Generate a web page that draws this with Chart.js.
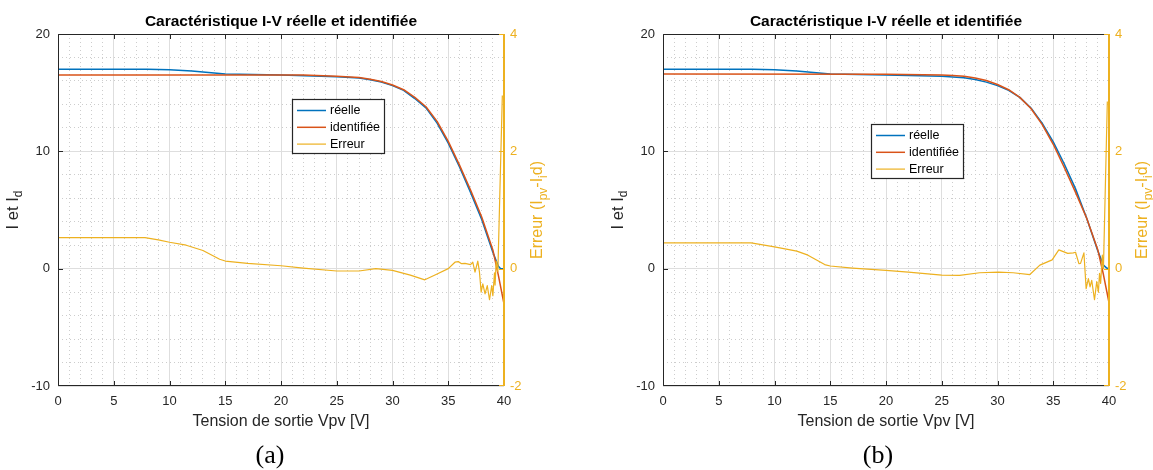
<!DOCTYPE html>
<html>
<head>
<meta charset="utf-8">
<script src="https://cdn.jsdelivr.net/npm/chart.js@4.4.1/dist/chart.umd.min.js"></script>
<style>
  body { margin: 0; background: #fff; width: 1153px; height: 470px; overflow: hidden; position: relative; }
  canvas { position: absolute; top: 0; }
  #courbeA { left: 0; }
  #courbeB { left: 576px; }
  .legende-fig { position: absolute; top: 440px; width: 80px; line-height: 30px; text-align: center;
    font: 26px 'Liberation Serif', 'Times New Roman', serif; color: #000; }
</style>
</head>
<body>
<canvas id="courbeA" width="576" height="470"></canvas>
<canvas id="courbeB" width="577" height="470"></canvas>
<div class="legende-fig" style="left:230px">(a)</div>
<div class="legende-fig" style="left:838px">(b)</div>
<script>
// courbes I-V réelle / identifiée et erreur - figures (a) et (b)
const titre = 'Caractéristique I-V réelle et identifiée';
const libelles = ['réelle', 'identifiée', 'Erreur'];
const xEtiquettes = [0, 5, 10, 15, 20, 25, 30, 35, 40];
const yEtiquettes = [-10, 0, 10, 20];
const y1Etiquettes = [-2, 0, 2, 4];

// (a)
const vReelA = [0, 8, 10, 12, 14, 15, 20, 25, 27, 28, 29, 30, 31, 32, 33, 34, 35, 36, 37, 38, 39, 39.5, 39.7, 40];
const iReelA = [17.0, 17.0, 16.95, 16.85, 16.68, 16.6, 16.5, 16.35, 16.25, 16.1, 15.9, 15.6, 15.2, 14.5, 13.7, 12.4, 10.7, 8.7, 6.5, 4.2, 1.4, 0.2, 0.0, 0.0];
const vIdA = [0, 22, 25, 27, 28, 29, 30, 31, 32, 33, 34, 35, 36, 37, 38, 39, 39.5, 40];
const iIdA = [16.5, 16.5, 16.4, 16.3, 16.15, 15.95, 15.65, 15.25, 14.6, 13.8, 12.55, 10.85, 8.85, 6.7, 4.4, 1.6, -0.6, -3.0];
const vErrA = [0, 7.8, 9, 10, 11.5, 13, 14.5, 15, 17, 20, 22, 25, 27, 28.5, 30, 31.6, 32.9, 34.0, 35.0, 35.6, 35.9, 36.2, 36.5, 37.0, 37.2, 37.4, 37.65, 37.8, 37.95, 38.1, 38.3, 38.5, 38.7, 38.9, 39.0, 39.15, 39.2, 39.3, 39.45, 39.85];
const errA = [0.53, 0.53, 0.49, 0.45, 0.40, 0.31, 0.16, 0.13, 0.09, 0.05, 0.01, -0.04, -0.04, 0.0, -0.03, -0.11, -0.19, -0.09, 0.0, 0.11, 0.12, 0.085, 0.09, 0.07, 0.11, -0.06, 0.13, -0.06, -0.4, -0.26, -0.43, -0.29, -0.53, -0.29, -0.46, -0.07, -0.28, 0.13, -0.05, 2.95];

// (b)
const vReelB = [0, 8, 10, 12, 14, 15, 20, 25, 27, 28, 29, 30, 31, 32, 33, 34, 35, 36, 37, 38, 39, 39.5, 39.8, 40];
const iReelB = [17.0, 17.0, 16.95, 16.85, 16.68, 16.6, 16.5, 16.4, 16.28, 16.12, 15.9, 15.6, 15.2, 14.6, 13.7, 12.4, 10.8, 8.9, 6.8, 4.3, 1.5, 0.3, 0.05, 0.0];
const vIdB = [0, 20, 25, 26, 27, 28, 29, 30, 31, 32, 33, 34, 35, 36, 37, 38, 39, 39.5, 40];
const iIdB = [16.6, 16.58, 16.5, 16.47, 16.4, 16.25, 16.03, 15.7, 15.25, 14.6, 13.65, 12.3, 10.6, 8.6, 6.5, 4.3, 1.6, -0.5, -2.9];
const vErrB = [0, 7.9, 10, 12, 13, 14.5, 15, 17, 20, 22, 25, 26.6, 28.4, 30.1, 31.4, 32.9, 33.8, 34.9, 35.5, 35.9, 36.3, 36.8, 37.0, 37.3, 37.45, 37.75, 37.95, 38.15, 38.3, 38.45, 38.7, 38.9, 39.05, 39.15, 39.25, 39.4, 39.5, 39.85];
const errB = [0.44, 0.44, 0.37, 0.30, 0.23, 0.07, 0.045, 0.01, -0.03, -0.06, -0.11, -0.115, -0.07, -0.06, -0.07, -0.10, 0.06, 0.15, 0.32, 0.29, 0.26, 0.27, 0.28, 0.085, 0.09, 0.27, -0.34, -0.17, -0.31, -0.2, -0.53, -0.22, -0.4, -0.08, -0.25, 0.23, 0.0, 2.85];

const POLICE = "'Liberation Sans', Arial, Helvetica, sans-serif";
const AXE = '#262626';
const BLEU = '#0072BD';
const ROUGE = '#D95319';
const JAUNE = '#EDB120';
const GRILLE = '#dedede';
const GRILLE_MIN = '#cdcdcd';

function toXY(xs, ys) {
  return xs.map((x, i) => ({ x, y: ys[i] }));
}

// texte avec indices (I_d, I_pv ...)
function texteIndice(ctx, morceaux, taille, cx, cy) {
  const fNormal = `${taille}px ${POLICE}`;
  const fIndice = `${Math.round(taille * 0.75)}px ${POLICE}`;
  let largeur = 0;
  morceaux.forEach((m) => {
    ctx.font = m.sub ? fIndice : fNormal;
    largeur += ctx.measureText(m.t).width;
  });
  let x = cx - largeur / 2;
  ctx.textAlign = 'left';
  ctx.textBaseline = 'middle';
  morceaux.forEach((m) => {
    ctx.font = m.sub ? fIndice : fNormal;
    ctx.fillText(m.t, x, m.sub ? cy + taille * 0.35 : cy);
    x += ctx.measureText(m.t).width;
  });
}

const cadreMatlab = {
  id: 'cadreMatlab',
  afterDraw(chart, args, opts) {
    const { ctx, chartArea: a } = chart;
    const sx = chart.scales.x, sy = chart.scales.y, sy1 = chart.scales.y1;
    const L = a.left + 0.5, R = a.right - 0.5, T = a.top + 0.5, B = a.bottom - 0.5;
    const pix = (p, lo, hi) => Math.min(Math.max(Math.round(p) + 0.5, lo), hi);
    const tl = 4.5;

    ctx.save();
    ctx.lineWidth = 1;
    ctx.strokeStyle = AXE;
    ctx.beginPath();
    ctx.moveTo(R, T); ctx.lineTo(L, T); ctx.lineTo(L, B); ctx.lineTo(R, B);
    xEtiquettes.forEach((v) => {
      const px = pix(sx.getPixelForValue(v), L, R);
      ctx.moveTo(px, B); ctx.lineTo(px, B - tl);
      ctx.moveTo(px, T); ctx.lineTo(px, T + tl);
    });
    yEtiquettes.forEach((v) => {
      const py = pix(sy.getPixelForValue(v), T, B);
      ctx.moveTo(L, py); ctx.lineTo(L + tl, py);
    });
    ctx.stroke();

    ctx.strokeStyle = JAUNE;
    ctx.lineWidth = 2;
    ctx.beginPath();
    ctx.moveTo(a.right, T - 0.5); ctx.lineTo(a.right, B + 0.5);
    ctx.stroke();
    ctx.lineWidth = 1;
    ctx.beginPath();
    y1Etiquettes.forEach((v) => {
      const py = pix(sy1.getPixelForValue(v), T, B);
      ctx.moveTo(R, py); ctx.lineTo(R - tl, py);
    });
    ctx.stroke();

    // titre
    ctx.fillStyle = '#000';
    ctx.font = `bold 15.5px ${POLICE}`;
    ctx.textAlign = 'center';
    ctx.textBaseline = 'middle';
    ctx.fillText(titre, (a.left + a.right) / 2, 22);

    // titre axe x
    ctx.fillStyle = AXE;
    ctx.font = `16px ${POLICE}`;
    ctx.fillText('Tension de sortie Vpv [V]', (a.left + a.right) / 2, 422);

    // titre axe y gauche
    const cyMil = (a.top + a.bottom) / 2;
    ctx.save();
    ctx.translate(a.left - 45, cyMil);
    ctx.rotate(-Math.PI / 2);
    ctx.fillStyle = AXE;
    texteIndice(ctx, [{ t: 'I et I' }, { t: 'd', sub: true }], 16.5, 0, 0);
    ctx.restore();

    // titre axe y droit
    ctx.save();
    ctx.translate(a.right + 34, cyMil);
    ctx.rotate(-Math.PI / 2);
    ctx.fillStyle = JAUNE;
    texteIndice(ctx, [{ t: 'Erreur (I' }, { t: 'pv', sub: true }, { t: '-I' }, { t: 'i', sub: true }, { t: 'd)' }], 16, 0, 0);
    ctx.restore();

    // légende
    const lg = opts.legende;
    ctx.fillStyle = '#fff';
    ctx.fillRect(lg.x, lg.y, 92, 54);
    ctx.strokeStyle = AXE;
    ctx.lineWidth = 1.2;
    ctx.strokeRect(lg.x + 0.5, lg.y + 0.5, 92, 54);
    ctx.font = `12.5px ${POLICE}`;
    ctx.textAlign = 'left';
    chart.data.datasets.forEach((ds, i) => {
      const yy = lg.y + 11.5 + i * 16.8;
      ctx.strokeStyle = ds.borderColor;
      ctx.lineWidth = ds.borderWidth;
      ctx.beginPath();
      ctx.moveTo(lg.x + 5, yy); ctx.lineTo(lg.x + 34, yy);
      ctx.stroke();
      ctx.fillStyle = '#000';
      ctx.fillText(ds.label, lg.x + 38, yy);
    });
    ctx.restore();
  },
};

function creerCourbe(id, d, largeurs, legende) {
  const estMajeurX = (c) => c.tick && xEtiquettes.includes(c.tick.value);
  const estMajeurY = (c) => c.tick && yEtiquettes.includes(c.tick.value);
  const police = { family: POLICE, size: 13 };

  return new Chart(document.getElementById(id).getContext('2d'), {
    type: 'line',
    data: {
      datasets: [
        { label: libelles[0], data: toXY(d.vReel, d.iReel), borderColor: BLEU, borderWidth: 1.5, yAxisID: 'y', order: 2 },
        { label: libelles[1], data: toXY(d.vId, d.iId), borderColor: ROUGE, borderWidth: 1.5, yAxisID: 'y', order: 1 },
        { label: libelles[2], data: toXY(d.vErr, d.err), borderColor: JAUNE, borderWidth: 1.2, yAxisID: 'y1', order: 0 },
      ],
    },
    options: {
      responsive: false,
      animation: false,
      events: [],
      elements: { point: { radius: 0 }, line: { tension: 0, borderJoinStyle: 'round' } },
      layout: { padding: { top: 34, left: 0, right: 0, bottom: 0 } },
      plugins: {
        legend: { display: false },
        tooltip: { enabled: false },
        cadreMatlab: { legende },
      },
      scales: {
        x: {
          type: 'linear', min: 0, max: 40,
          ticks: {
            stepSize: 1, autoSkip: false, maxRotation: 0, padding: 8, color: AXE, font: police,
            callback: (v) => (xEtiquettes.includes(v) ? String(v) : ''),
          },
          grid: { drawTicks: false, lineWidth: 1, color: (c) => (estMajeurX(c) ? GRILLE : GRILLE_MIN) },
          border: { display: false, dash: (c) => (c.tick && !estMajeurX(c) ? [1, 3] : []) },
          afterFit: (s) => { s.height = 84; },
        },
        y: {
          position: 'left', min: -10, max: 20,
          ticks: {
            stepSize: 2, autoSkip: false, padding: 8, color: AXE, font: police,
            callback: (v) => (yEtiquettes.includes(v) ? String(v) : ''),
          },
          grid: { drawTicks: false, lineWidth: 1, color: (c) => (estMajeurY(c) ? GRILLE : GRILLE_MIN) },
          border: { display: false, dash: (c) => (c.tick && !estMajeurY(c) ? [1, 3] : []) },
          afterFit: (s) => { s.width = largeurs.gauche; },
        },
        y1: {
          position: 'right', min: -2, max: 4,
          ticks: { stepSize: 2, padding: 6, color: JAUNE, font: police, callback: (v) => String(v) },
          grid: { display: false, drawTicks: false },
          border: { display: false },
          afterFit: (s) => { s.width = largeurs.droite; },
        },
      },
    },
    plugins: [cadreMatlab],
  });
}

creerCourbe('courbeA',
  { vReel: vReelA, iReel: iReelA, vId: vIdA, iId: iIdA, vErr: vErrA, err: errA },
  { gauche: 58, droite: 72 },
  { x: 292, y: 99 });

creerCourbe('courbeB',
  { vReel: vReelB, iReel: iReelB, vId: vIdB, iId: iIdB, vErr: vErrB, err: errB },
  { gauche: 87, droite: 44 },
  { x: 295, y: 124 });
</script>
</body>
</html>
